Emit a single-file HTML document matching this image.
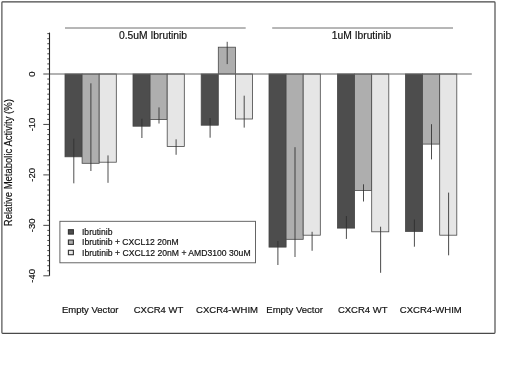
<!DOCTYPE html>
<html><head><meta charset="utf-8"><title>Relative Metabolic Activity</title>
<style>
html,body{margin:0;padding:0;background:#fff;}
body{width:520px;height:390px;overflow:hidden;}
svg{display:block;font-family:"Liberation Sans",sans-serif;}
text{fill:#111;stroke:#111;stroke-width:0.18px;}
</style></head><body>
<svg width="520" height="390" viewBox="0 0 520 390">
<defs><filter id="soft" x="0" y="0" width="520" height="390" filterUnits="userSpaceOnUse"><feGaussianBlur stdDeviation="0.45"/></filter></defs>
<rect x="0" y="0" width="520" height="390" fill="#fff"/>
<g id="chart" filter="url(#soft)">
<rect x="1.9" y="1.8" width="493.1" height="331.6" rx="0.8" fill="none" stroke="#484848" stroke-width="1.15"/>
<line x1="65" y1="28" x2="245.7" y2="28" stroke="#6e6e6e" stroke-width="1"/>
<line x1="272.2" y1="28" x2="453" y2="28" stroke="#6e6e6e" stroke-width="1"/>
<text x="153.0" y="39" font-size="10.3" text-anchor="middle">0.5uM Ibrutinib</text>
<text x="361.5" y="39" font-size="10.3" text-anchor="middle">1uM Ibrutinib</text>
<rect x="65.0" y="74.0" width="17.1" height="82.8" fill="#4d4d4d" stroke="#454545" stroke-width="0.8"/>
<rect x="82.1" y="74.0" width="17.1" height="89.3" fill="#aeaeae" stroke="#484848" stroke-width="0.8"/>
<rect x="99.2" y="74.0" width="17.1" height="88.2" fill="#e6e6e6" stroke="#484848" stroke-width="0.8"/>
<rect x="133.0" y="74.0" width="17.1" height="52.2" fill="#4d4d4d" stroke="#454545" stroke-width="0.8"/>
<rect x="150.1" y="74.0" width="17.1" height="45.5" fill="#aeaeae" stroke="#484848" stroke-width="0.8"/>
<rect x="167.2" y="74.0" width="17.1" height="72.5" fill="#e6e6e6" stroke="#484848" stroke-width="0.8"/>
<rect x="201.2" y="74.0" width="17.1" height="51.2" fill="#4d4d4d" stroke="#454545" stroke-width="0.8"/>
<rect x="218.3" y="47.2" width="17.1" height="26.8" fill="#aeaeae" stroke="#484848" stroke-width="0.8"/>
<rect x="235.4" y="74.0" width="17.1" height="45.0" fill="#e6e6e6" stroke="#484848" stroke-width="0.8"/>
<rect x="269.0" y="74.0" width="17.1" height="173.1" fill="#4d4d4d" stroke="#454545" stroke-width="0.8"/>
<rect x="286.1" y="74.0" width="17.1" height="165.3" fill="#aeaeae" stroke="#484848" stroke-width="0.8"/>
<rect x="303.2" y="74.0" width="17.1" height="161.2" fill="#e6e6e6" stroke="#484848" stroke-width="0.8"/>
<rect x="337.5" y="74.0" width="17.1" height="154.1" fill="#4d4d4d" stroke="#454545" stroke-width="0.8"/>
<rect x="354.6" y="74.0" width="17.1" height="116.4" fill="#aeaeae" stroke="#484848" stroke-width="0.8"/>
<rect x="371.7" y="74.0" width="17.1" height="157.8" fill="#e6e6e6" stroke="#484848" stroke-width="0.8"/>
<rect x="405.5" y="74.0" width="17.1" height="157.4" fill="#4d4d4d" stroke="#454545" stroke-width="0.8"/>
<rect x="422.6" y="74.0" width="17.1" height="70.1" fill="#aeaeae" stroke="#484848" stroke-width="0.8"/>
<rect x="439.7" y="74.0" width="17.1" height="161.2" fill="#e6e6e6" stroke="#484848" stroke-width="0.8"/>
<line x1="73.8" y1="138.7" x2="73.8" y2="183.3" stroke="#2e2e2e" stroke-width="0.85"/>
<line x1="90.9" y1="83.3" x2="90.9" y2="171.0" stroke="#2e2e2e" stroke-width="0.85"/>
<line x1="108.0" y1="155.4" x2="108.0" y2="182.8" stroke="#2e2e2e" stroke-width="0.85"/>
<line x1="141.9" y1="118.8" x2="141.9" y2="138.0" stroke="#2e2e2e" stroke-width="0.85"/>
<line x1="159.0" y1="107.4" x2="159.0" y2="123.5" stroke="#2e2e2e" stroke-width="0.85"/>
<line x1="176.1" y1="139.3" x2="176.1" y2="154.8" stroke="#2e2e2e" stroke-width="0.85"/>
<line x1="210.1" y1="118.0" x2="210.1" y2="137.7" stroke="#2e2e2e" stroke-width="0.85"/>
<line x1="227.2" y1="41.8" x2="227.2" y2="64.1" stroke="#2e2e2e" stroke-width="0.85"/>
<line x1="244.2" y1="95.7" x2="244.2" y2="127.6" stroke="#2e2e2e" stroke-width="0.85"/>
<line x1="277.9" y1="241.0" x2="277.9" y2="265.0" stroke="#2e2e2e" stroke-width="0.85"/>
<line x1="295.0" y1="147.2" x2="295.0" y2="257.0" stroke="#2e2e2e" stroke-width="0.85"/>
<line x1="312.1" y1="231.8" x2="312.1" y2="250.8" stroke="#2e2e2e" stroke-width="0.85"/>
<line x1="346.4" y1="216.0" x2="346.4" y2="238.9" stroke="#2e2e2e" stroke-width="0.85"/>
<line x1="363.5" y1="184.3" x2="363.5" y2="201.5" stroke="#2e2e2e" stroke-width="0.85"/>
<line x1="380.6" y1="226.7" x2="380.6" y2="272.8" stroke="#2e2e2e" stroke-width="0.85"/>
<line x1="414.4" y1="219.5" x2="414.4" y2="246.7" stroke="#2e2e2e" stroke-width="0.85"/>
<line x1="431.5" y1="124.2" x2="431.5" y2="159.4" stroke="#2e2e2e" stroke-width="0.85"/>
<line x1="448.6" y1="192.6" x2="448.6" y2="255.3" stroke="#2e2e2e" stroke-width="0.85"/>
<line x1="50" y1="74.0" x2="471.8" y2="74.0" stroke="#666" stroke-width="1.1"/>
<line x1="49.5" y1="32.6" x2="49.5" y2="275.8" stroke="#222" stroke-width="1.1"/>
<path d="M47.3 33.64H49.5 M47.3 38.69H49.5 M47.3 43.73H49.5 M47.3 48.77H49.5 M47.3 53.82H49.5 M47.3 58.87H49.5 M47.3 63.91H49.5 M47.3 68.95H49.5 M43.3 74.00H49.5 M47.3 79.05H49.5 M47.3 84.09H49.5 M47.3 89.14H49.5 M47.3 94.18H49.5 M47.3 99.22H49.5 M47.3 104.27H49.5 M47.3 109.31H49.5 M47.3 114.36H49.5 M47.3 119.41H49.5 M43.3 124.45H49.5 M47.3 129.50H49.5 M47.3 134.54H49.5 M47.3 139.58H49.5 M47.3 144.63H49.5 M47.3 149.68H49.5 M47.3 154.72H49.5 M47.3 159.76H49.5 M47.3 164.81H49.5 M47.3 169.86H49.5 M43.3 174.90H49.5 M47.3 179.94H49.5 M47.3 184.99H49.5 M47.3 190.03H49.5 M47.3 195.08H49.5 M47.3 200.12H49.5 M47.3 205.17H49.5 M47.3 210.22H49.5 M47.3 215.26H49.5 M47.3 220.31H49.5 M43.3 225.35H49.5 M47.3 230.40H49.5 M47.3 235.44H49.5 M47.3 240.48H49.5 M47.3 245.53H49.5 M47.3 250.57H49.5 M47.3 255.62H49.5 M47.3 260.66H49.5 M47.3 265.71H49.5 M47.3 270.75H49.5 M43.3 275.80H49.5" stroke="#333" stroke-width="0.9" fill="none"/>
<text transform="translate(35.2 74.0) rotate(-90)" font-size="9.5" stroke-width="0.3" text-anchor="middle">0</text>
<text transform="translate(35.2 124.5) rotate(-90)" font-size="9.5" stroke-width="0.3" text-anchor="middle">-10</text>
<text transform="translate(35.2 174.9) rotate(-90)" font-size="9.5" stroke-width="0.3" text-anchor="middle">-20</text>
<text transform="translate(35.2 225.3) rotate(-90)" font-size="9.5" stroke-width="0.3" text-anchor="middle">-30</text>
<text transform="translate(35.2 275.8) rotate(-90)" font-size="9.5" stroke-width="0.3" text-anchor="middle">-40</text>
<text transform="translate(12.3 162.7) rotate(-90)" font-size="10" text-anchor="middle" textLength="127" lengthAdjust="spacingAndGlyphs">Relative Metabolic Activity (%)</text>
<text x="90.2" y="313.3" font-size="9.8" stroke-width="0.25" text-anchor="middle" textLength="56.6" lengthAdjust="spacingAndGlyphs">Empty Vector</text>
<text x="158.5" y="313.3" font-size="9.8" stroke-width="0.25" text-anchor="middle" textLength="49.5" lengthAdjust="spacingAndGlyphs">CXCR4 WT</text>
<text x="227" y="313.3" font-size="9.8" stroke-width="0.25" text-anchor="middle" textLength="62" lengthAdjust="spacingAndGlyphs">CXCR4-WHIM</text>
<text x="294.6" y="313.3" font-size="9.8" stroke-width="0.25" text-anchor="middle" textLength="56.6" lengthAdjust="spacingAndGlyphs">Empty Vector</text>
<text x="362.7" y="313.3" font-size="9.8" stroke-width="0.25" text-anchor="middle" textLength="49.5" lengthAdjust="spacingAndGlyphs">CXCR4 WT</text>
<text x="430.8" y="313.3" font-size="9.8" stroke-width="0.25" text-anchor="middle" textLength="62" lengthAdjust="spacingAndGlyphs">CXCR4-WHIM</text>
<rect x="59.9" y="221.3" width="195.6" height="41.5" fill="#fff" stroke="#555" stroke-width="0.9"/>
<rect x="68.4" y="229.7" width="5.0" height="4.4" fill="#4d4d4d" stroke="#333" stroke-width="1.1"/>
<text x="82" y="235.1" font-size="9.2" fill="#383838" stroke="none" textLength="30.4" lengthAdjust="spacingAndGlyphs">Ibrutinib</text>
<rect x="68.4" y="240.0" width="5.0" height="4.4" fill="#aeaeae" stroke="#333" stroke-width="1.1"/>
<text x="82" y="245.4" font-size="9.2" fill="#383838" stroke="none" textLength="96.6" lengthAdjust="spacingAndGlyphs">Ibrutinib + CXCL12 20nM</text>
<rect x="68.4" y="250.3" width="5.0" height="4.4" fill="#e6e6e6" stroke="#333" stroke-width="1.1"/>
<text x="82" y="255.7" font-size="9.2" fill="#383838" stroke="none" textLength="168.6" lengthAdjust="spacingAndGlyphs">Ibrutinib + CXCL12 20nM + AMD3100 30uM</text>
</g></svg></body></html>
